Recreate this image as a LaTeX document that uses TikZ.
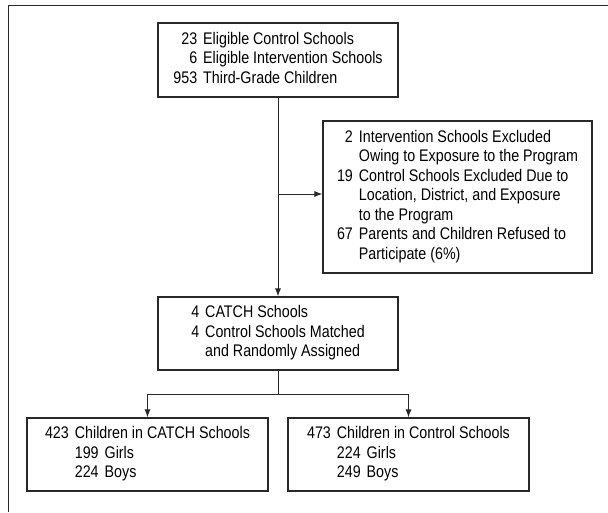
\documentclass[tikz,border=0pt]{standalone}
\usepackage{fontspec}
\setmainfont{Liberation Sans}[FakeStretch=0.85]
\usepackage{tikz}
\tikzset{>=latex}
\usetikzlibrary{arrows.meta}
\usetikzlibrary{calc}
\definecolor{frame}{RGB}{40,40,40}

\begin{document}
\begin{tikzpicture}[x=1pt, y=-1pt]
            \tikzset{box/.style = {draw=frame, line width=1.1pt, inner sep=0pt, align=center, font=\fontsize{16.8}{19.5}\selectfont}}
            \tikzset{flow/.style = {frame, line width=1pt, -{Latex[length=8pt, width=6pt]}}}
            \tikzset{link/.style = {frame, line width=1pt}}
            \useasboundingbox (0, 0) rectangle (608, 512);
            \draw[link] (8, 5) -- (608, 5);
            \draw[link] (8, 5) -- (8, 512);
            \node[box, minimum width=240, minimum height=74] (eligible) at (278, 60)
                {\begin{tabular}{@{}r@{\hspace{6pt}}l@{}}
                    23 & Eligible Control Schools\\
                    6 & Eligible Intervention Schools\\
                    953 & Third-Grade Children
                 \end{tabular}};
            \node[box, minimum width=269, minimum height=152] (excluded) at (457.5, 197)
                {\begin{tabular}{@{}r@{\hspace{6pt}}l@{}}
                    2 & Intervention Schools Excluded\\
                      & Owing to Exposure to the Program\\
                    19 & Control Schools Excluded Due to\\
                      & Location, District, and Exposure\\
                      & to the Program\\
                    67 & Parents and Children Refused to\\
                      & Participate (6\%)
                 \end{tabular}};
            \node[box, minimum width=240, minimum height=73] (matched) at (278, 333.5)
                {\begin{tabular}{@{}r@{\hspace{6pt}}l@{}}
                    4 & CATCH Schools\\
                    4 & Control Schools Matched\\
                      & and Randomly Assigned
                 \end{tabular}};
            \node[box, minimum width=241, minimum height=73] (catch) at (147.5, 454.5)
                {\begin{tabular}{@{}r@{\hspace{6pt}}l@{}}
                    423 & Children in CATCH Schools\\
                        & 199\hspace{6pt}Girls\\
                        & 224\hspace{6pt}Boys
                 \end{tabular}};
            \node[box, minimum width=241, minimum height=73] (control) at (408.5, 454.5)
                {\begin{tabular}{@{}r@{\hspace{6pt}}l@{}}
                    473 & Children in Control Schools\\
                        & 224\hspace{6pt}Girls\\
                        & 249\hspace{6pt}Boys
                 \end{tabular}};
            \coordinate (branch) at ([yshift=3pt]excluded.west);
            \coordinate (split) at (278, 394);
            \draw[flow] (eligible.south) -- (matched.north);
            \draw[flow] (eligible.south |- branch) -- (branch);
            \draw[link] (matched.south) -- (split);
            \draw[flow] (split) -| (catch.north);
            \draw[flow] (split) -| (control.north);
        \end{tikzpicture}
\end{document}
